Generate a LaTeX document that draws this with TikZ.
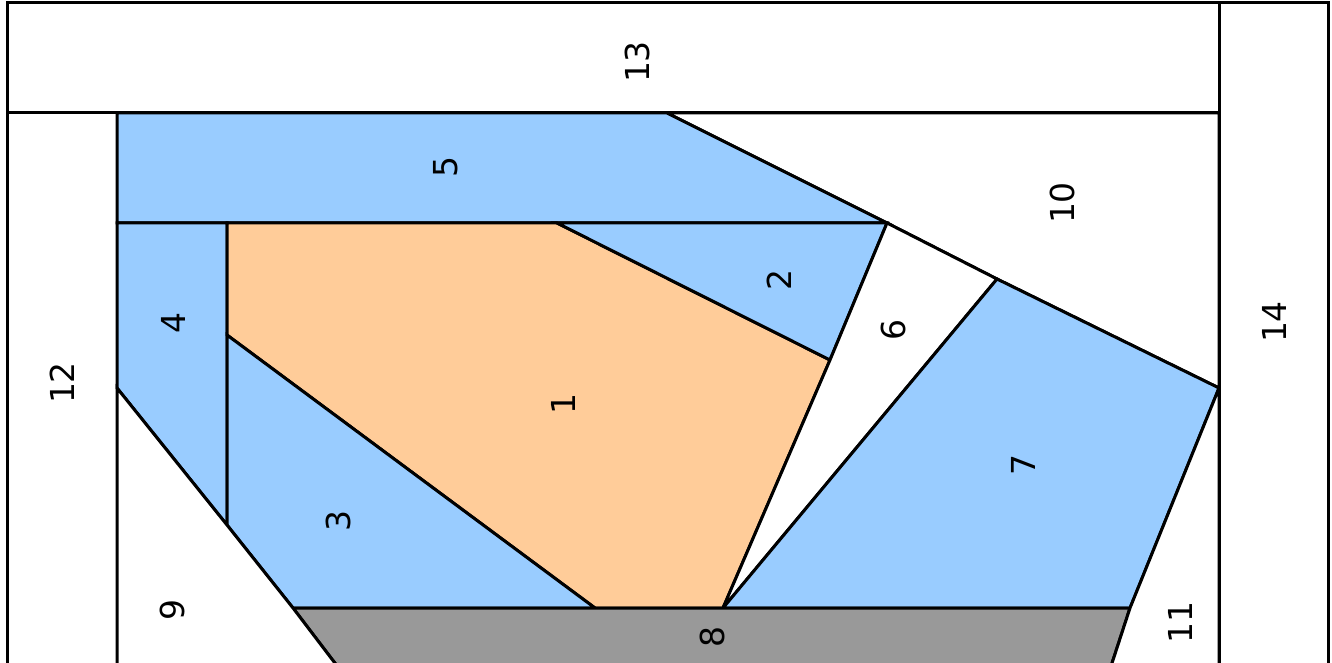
\documentclass[tikz,border=0pt]{standalone}
\usepackage{fontspec}
\setmainfont{DejaVu Sans}
\definecolor{pblue}{HTML}{99CCFF}
\definecolor{porange}{HTML}{FFCC99}
\definecolor{pgray}{HTML}{999999}
\begin{document}
\begin{tikzpicture}[x=0.5pt,y=-0.5pt,
  piece/.style={draw=black,line width=1.5pt,line join=miter},
  lbl/.style={rotate=90,font=\fontsize{16.5}{20}\selectfont,inner sep=0pt}]
\useasboundingbox (0,0) rectangle (1332,663);
\clip (0,0) rectangle (1332,663);
% coordinates
\coordinate (A) at (7,3);
\coordinate (B) at (1219,3);
\coordinate (C) at (1328,3);
\coordinate (D) at (7,113);
\coordinate (E) at (117,113);
\coordinate (F) at (667,113);
\coordinate (G) at (1219,113);
\coordinate (H) at (117,223);
\coordinate (I) at (227,223);
\coordinate (J) at (557,223);
\coordinate (K) at (887,223);
\coordinate (L) at (997,279);
\coordinate (M) at (227,335);
\coordinate (N) at (830,360);
\coordinate (O) at (117,388);
\coordinate (P) at (1219,388);
\coordinate (Q) at (227,525);
\coordinate (R) at (293,608);
\coordinate (S) at (595,608);
\coordinate (T) at (723,608);
\coordinate (U) at (1130,608);
\coordinate (V) at (335,663);
\coordinate (W) at (1112,663);
\coordinate (Xl) at (7,700);
\coordinate (Xe) at (117,700);
\coordinate (Xg) at (1219,700);
\coordinate (Xc) at (1328,700);
\coordinate (V2) at (363,700);
\coordinate (W2) at (1100,700);
% pieces
\filldraw[piece,fill=white] (A) -- (B) -- (G) -- (D) -- cycle;
\filldraw[piece,fill=white] (B) -- (C) -- (Xc) -- (Xg) -- cycle;
\filldraw[piece,fill=white] (D) -- (E) -- (Xe) -- (Xl) -- cycle;
\filldraw[piece,fill=white] (F) -- (G) -- (P) -- (L) -- (K) -- cycle;
\filldraw[piece,fill=pblue] (E) -- (F) -- (K) -- (H) -- cycle;
\filldraw[piece,fill=pblue] (H) -- (I) -- (Q) -- (O) -- cycle;
\filldraw[piece,fill=porange] (I) -- (J) -- (N) -- (T) -- (S) -- (M) -- cycle;
\filldraw[piece,fill=pblue] (J) -- (K) -- (N) -- cycle;
\filldraw[piece,fill=pblue] (M) -- (S) -- (R) -- (Q) -- cycle;
\filldraw[piece,fill=white] (K) -- (L) -- (T) -- (N) -- cycle;
\filldraw[piece,fill=pblue] (L) -- (P) -- (U) -- (T) -- cycle;
\filldraw[piece,fill=pgray] (R) -- (U) -- (W2) -- (V2) -- cycle;
\filldraw[piece,fill=white] (O) -- (Q) -- (R) -- (V2) -- (Xe) -- cycle;
\filldraw[piece,fill=white] (U) -- (P) -- (Xg) -- (W2) -- cycle;
% labels
\node[lbl] (l13) at (637,62) {13};
\node[lbl] (l5) at (446,167) {5};
\node[lbl] (l10) at (1062,203) {10};
\node[lbl] (l2) at (779,280) {2};
\node[lbl] (l4) at (173,323) {4};
\node[lbl] (l6) at (893,330) {6};
\node[lbl] (l14) at (1274,322) {14};
\node[lbl] (l12) at (62,383) {12};
\node[lbl] (l1) at (563,404) {1};
\node[lbl] (l7) at (1023,465) {7};
\node[lbl] (l3) at (338,521) {3};
\node[lbl] (l9) at (172,610) {9};
\node[lbl] (l11) at (1180,622) {11};
\node[lbl] (l8) at (712,637) {8};
\end{tikzpicture}
\end{document}
